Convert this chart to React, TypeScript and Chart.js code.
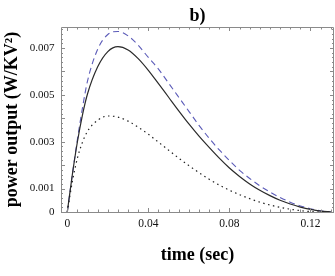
import React, { useEffect, useRef } from "react";
import { Chart, registerables } from "chart.js";

Chart.register(...registerables);

const timeSec = [0, 0.0025, 0.005, 0.0075, 0.01, 0.015, 0.02, 0.025, 0.03, 0.035, 0.04, 0.045, 0.05, 0.055, 0.06, 0.065, 0.07, 0.075, 0.08, 0.085, 0.09, 0.095, 0.1, 0.105, 0.11, 0.115, 0.12, 0.125, 0.13];
const solidPower = [0, 0.0016, 0.003, 0.00415, 0.00505, 0.0062, 0.00685, 0.00706, 0.00692, 0.00655, 0.00605, 0.00548, 0.0049, 0.00432, 0.00376, 0.00324, 0.00276, 0.0023, 0.00188, 0.00152, 0.0012, 0.00093, 0.0007, 0.0005, 0.00034, 0.00021, 0.00011, 0.00004, 0.00001];
const dashedPower = [0, 0.0016, 0.0031, 0.00445, 0.0056, 0.00695, 0.00758, 0.00771, 0.00752, 0.00712, 0.0066, 0.0061, 0.0055, 0.0049, 0.0043, 0.0037, 0.00315, 0.00265, 0.0022, 0.00178, 0.00143, 0.00112, 0.00085, 0.00062, 0.00042, 0.00026, 0.00014, 0.00005, 0.00001];
const dottedPower = [0, 0.0013, 0.0023, 0.00298, 0.00345, 0.00392, 0.0041, 0.00405, 0.00388, 0.00362, 0.00332, 0.00298, 0.00264, 0.0023, 0.00198, 0.00168, 0.0014, 0.00115, 0.00093, 0.00074, 0.00057, 0.00042, 0.0003, 0.0002, 0.00012, 0.00006, 0.00002, 0, 0];

const xTickValues = [0, 0.04, 0.08, 0.12];
const xTickLabels = ["0", "0.04", "0.08", "0.12"];
const yTickValues = [0, 0.001, 0.003, 0.005, 0.007];
const yTickLabels = ["0", "0.001", "0.003", "0.005", "0.007"];

const X_MIN = -0.0031;
const X_MAX = 0.1316;
const Y_MIN = 0;
const Y_MAX = 0.0079;

const FRAME = "#8a8a8a";
const SERIF = "'Liberation Serif', 'Times New Roman', serif";

const toPoints = (ys: number[]) => ys.map((y, i) => ({ x: timeSec[i], y }));

const framePlugin = {
  id: "frameTicks",
  afterDatasetsDraw(chart: any) {
    const { ctx, chartArea } = chart;
    const xs = chart.scales.x;
    const ys = chart.scales.y;
    const { left, right, top, bottom } = chartArea;
    ctx.save();
    ctx.strokeStyle = FRAME;
    ctx.lineWidth = 1;
    ctx.beginPath();
    ctx.rect(Math.round(left) + 0.5, Math.round(top) + 0.5, Math.round(right - left) - 1, Math.round(bottom - top));
    ctx.stroke();
    ctx.beginPath();
    for (let i = 0; i <= 26; i++) {
      const v = i * 0.005;
      const px = Math.round(xs.getPixelForValue(v)) + 0.5;
      const major = Math.abs(v / 0.04 - Math.round(v / 0.04)) < 1e-6;
      const len = major ? 4 : 2.5;
      ctx.moveTo(px, bottom);
      ctx.lineTo(px, bottom - len);
      ctx.moveTo(px, top);
      ctx.lineTo(px, top + len);
    }
    for (let i = 0; i <= 39; i++) {
      const v = i * 0.0002;
      const py = Math.round(ys.getPixelForValue(v)) + 0.5;
      const major = i % 5 === 0;
      const len = major ? 4 : 2;
      ctx.moveTo(left, py);
      ctx.lineTo(left + len, py);
      ctx.moveTo(right, py);
      ctx.lineTo(right - len, py);
    }
    ctx.stroke();
    ctx.restore();
  },
};

export default function App() {
  const ref = useRef<HTMLCanvasElement | null>(null);

  useEffect(() => {
    if (!ref.current) return;
    const chart = new Chart(ref.current, {
      type: "scatter",
      data: {
        datasets: [
          {
            label: "dotted",
            data: toPoints(dottedPower),
            showLine: true,
            borderColor: "#222222",
            borderWidth: 1.2,
            borderDash: [1.5, 3.5],
            pointRadius: 0,
            cubicInterpolationMode: "monotone",
          },
          {
            label: "solid",
            data: toPoints(solidPower),
            showLine: true,
            borderColor: "#2a2a2a",
            borderWidth: 1.2,
            pointRadius: 0,
            cubicInterpolationMode: "monotone",
          },
          {
            label: "dashed",
            data: toPoints(dashedPower),
            showLine: true,
            borderColor: "#5b5bb8",
            borderWidth: 1.1,
            borderDash: [6, 4],
            pointRadius: 0,
            cubicInterpolationMode: "monotone",
          },
        ],
      },
      options: {
        responsive: false,
        animation: false,
        devicePixelRatio: 1,
        layout: { padding: { left: 0, right: 1, top: 0, bottom: 0 } },
        plugins: {
          legend: { display: false },
          tooltip: { enabled: false },
          title: {
            display: true,
            text: "b)",
            fullSize: false,
            color: "#000",
            font: { family: SERIF, size: 18, weight: "bold", lineHeight: 1.1 },
            padding: { top: 6, bottom: 1.2 },
          },
        },
        scales: {
          x: {
            type: "linear",
            min: X_MIN,
            max: X_MAX,
            afterBuildTicks: (s: any) => {
              s.ticks = xTickValues.map((v) => ({ value: v }));
            },
            afterFit: (s: any) => {
              s.height = 64;
            },
            grid: { display: false, drawTicks: false },
            border: { display: false },
            ticks: {
              padding: 5,
              color: "#111",
              font: { family: SERIF, size: 11.5 },
              maxRotation: 0,
              autoSkip: false,
              callback: (v: any) => {
                const i = xTickValues.findIndex((t) => Math.abs(t - Number(v)) < 1e-9);
                return i >= 0 ? xTickLabels[i] : "";
              },
            },
            title: {
              display: true,
              text: "time (sec)",
              color: "#000",
              font: { family: SERIF, size: 18, weight: "bold", lineHeight: 1.2 },
              padding: { top: 0, bottom: 10 },
            },
          },
          y: {
            type: "linear",
            min: Y_MIN,
            max: Y_MAX,
            afterBuildTicks: (s: any) => {
              s.ticks = yTickValues.map((v) => ({ value: v }));
            },
            afterFit: (s: any) => {
              s.width = 61;
            },
            grid: { display: false, drawTicks: false },
            border: { display: false },
            ticks: {
              padding: 6.5,
              color: "#111",
              font: { family: SERIF, size: 11 },
              autoSkip: false,
              callback: (v: any) => {
                const i = yTickValues.findIndex((t) => Math.abs(t - Number(v)) < 1e-12);
                return i >= 0 ? yTickLabels[i] : "";
              },
            },
            title: {
              display: true,
              text: "power output (W/KV\u00B2)",
              color: "#000",
              font: { family: SERIF, size: 18, weight: "bold", lineHeight: 1.2 },
              padding: { top: 2, bottom: 0 },
            },
          },
        },
      },
      plugins: [framePlugin],
    } as any);
    return () => chart.destroy();
  }, []);

  return (
    <div style={{ position: "absolute", left: 0, top: 0, width: 335, height: 276, background: "#fff" }}>
      <canvas ref={ref} width={335} height={276} />
    </div>
  );
}
